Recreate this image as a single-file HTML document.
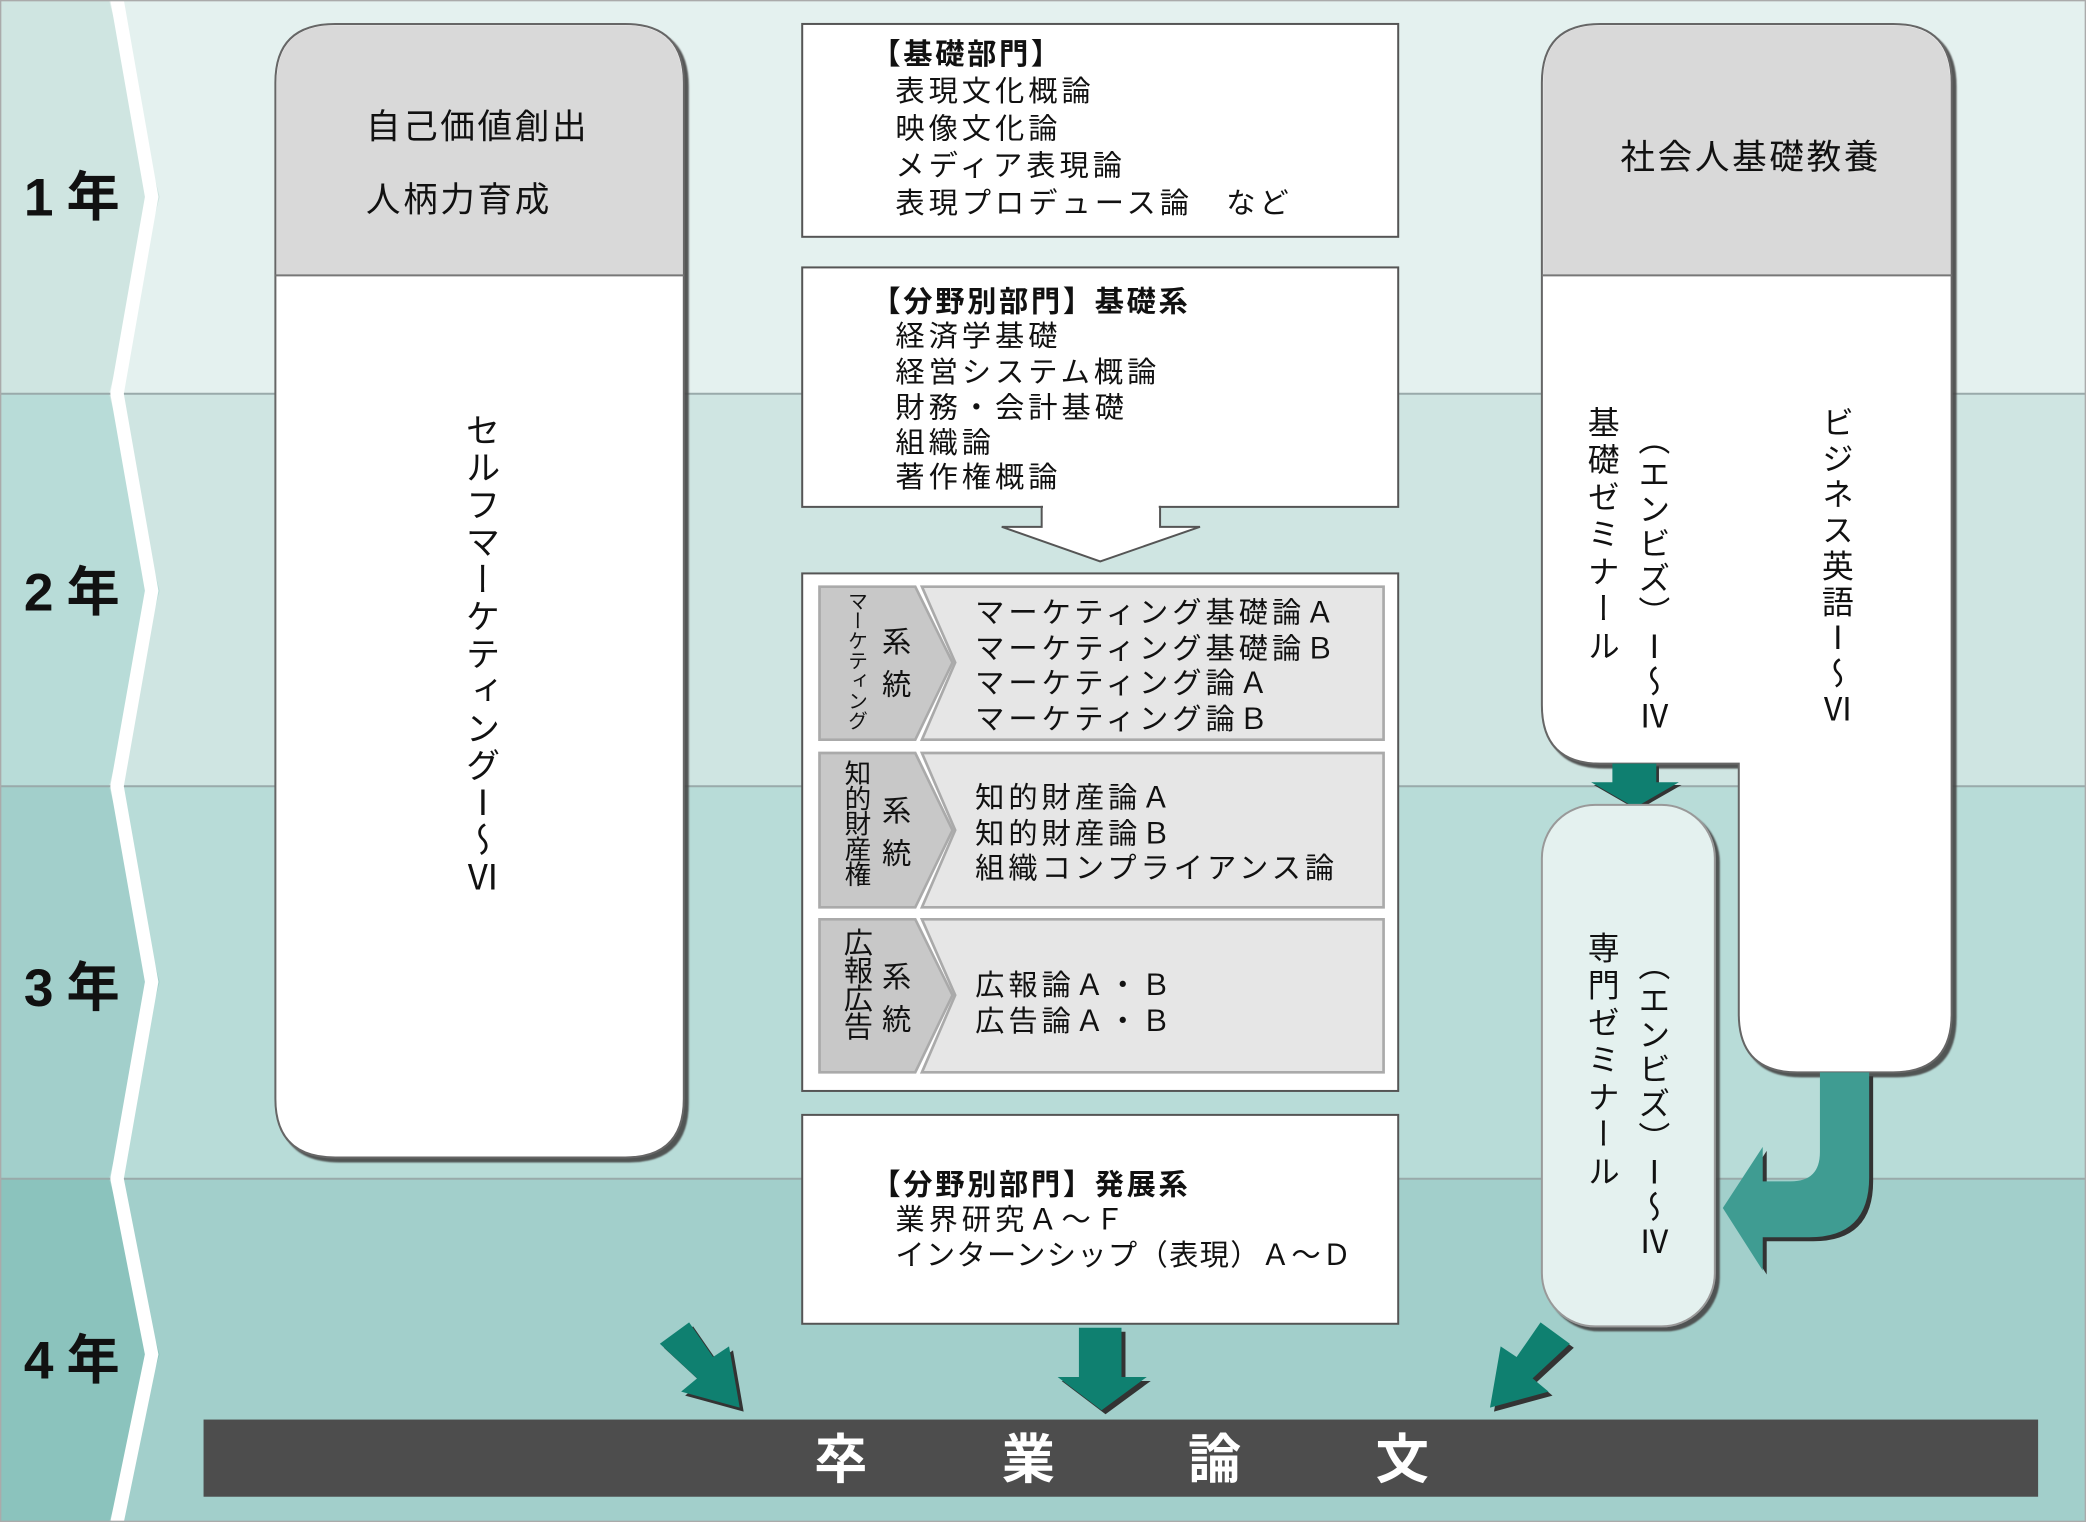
<!DOCTYPE html>
<html><head><meta charset="utf-8"><style>
html,body{margin:0;padding:0;background:#fff}
svg{display:block}
text{font-family:"Liberation Sans","Noto Sans CJK JP",sans-serif;fill:#111}
.v{writing-mode:vertical-rl}
</style></head><body>
<svg width="2086" height="1522" viewBox="0 0 1568 1144" preserveAspectRatio="none" xmlns="http://www.w3.org/2000/svg">
<defs>
<filter id="sh" x="-10%" y="-10%" width="130%" height="130%"><feDropShadow dx="3" dy="3" stdDeviation="0.6" flood-color="#444" flood-opacity="0.9"/></filter>
</defs>
<rect x="0" y="0" width="1568" height="296" fill="#e4f1ef"/>
<rect x="0" y="296" width="1568" height="295" fill="#cfe5e2"/>
<rect x="0" y="591" width="1568" height="295" fill="#b8dcd8"/>
<rect x="0" y="886" width="1568" height="258" fill="#a2cfcb"/>
<polygon points="0,0 82,0 120,148 82,296 0,296" fill="#cfe5e1"/>
<polygon points="0,296 82,296 120,444 82,591 0,591" fill="#b8dcd8"/>
<polygon points="0,591 82,591 120,738 82,886 0,886" fill="#a2cfcb"/>
<polygon points="0,886 82,886 120,1018 82,1144 0,1144" fill="#8bc3bd"/>
<g stroke="#9aa" stroke-width="1.5">
<line x1="0" y1="296" x2="1568" y2="296"/><line x1="0" y1="591" x2="1568" y2="591"/><line x1="0" y1="886" x2="1568" y2="886"/>
</g>
<polyline points="88,0 114,148 88,296 114,444 88,591 114,738 88,886 114,1018 88,1144" fill="none" stroke="#fff" stroke-width="10"/>
<rect x="0" y="0" width="1568" height="1144" fill="none" stroke="#aaa" stroke-width="2"/>
<g font-weight="bold" font-size="40">
<text x="18" y="162">1</text><text x="50" y="162">年</text>
<text x="18" y="459">2</text><text x="50" y="459">年</text>
<text x="18" y="756">3</text><text x="50" y="756">年</text>
<text x="18" y="1036">4</text><text x="50" y="1036">年</text>
</g>

<g filter="url(#sh)">
<path d="M252,18 H470 Q514,18 514,62 V826 Q514,870 470,870 H252 Q207,870 207,826 V62 Q207,18 252,18 Z" fill="#fff" stroke="#666" stroke-width="1.5"/>
</g>
<path d="M252,19 H470 Q513,19 513,62 V207 H208 V62 Q208,19 252,19 Z" fill="#d9d9d9"/>
<line x1="207" y1="207" x2="514" y2="207" stroke="#777" stroke-width="1.5"/>
<text x="275" y="104" font-size="26" letter-spacing="2">自己価値創出</text>
<text x="275" y="159" font-size="26" letter-spacing="2">人柄力育成</text>
<text class="v" x="360" y="310" font-size="26" letter-spacing="2">セルフマーケティングⅠ～Ⅵ</text>

<g stroke="#555" stroke-width="1.5" fill="#fff">
<rect x="603" y="18" width="448" height="160"/>
<rect x="603" y="201" width="448" height="180"/>
<rect x="603" y="431" width="448" height="389"/>
<rect x="603" y="838" width="448" height="157"/>
</g>
<g font-size="22" letter-spacing="3">
<text x="655" y="48" font-weight="bold" letter-spacing="2">【基礎部門】</text>
<text x="673" y="76">表現文化概論</text>
<text x="673" y="104">映像文化論</text>
<text x="673" y="132">メディア表現論</text>
<text x="673" y="160">表現プロデュース論　など</text>
<text x="655" y="234" font-weight="bold" letter-spacing="2">【分野別部門】基礎系</text>
<text x="673" y="260">経済学基礎</text>
<text x="673" y="287">経営システム概論</text>
<text x="673" y="314">財務・会計基礎</text>
<text x="673" y="340">組織論</text>
<text x="673" y="366">著作権概論</text>
<text x="655" y="898" font-weight="bold" letter-spacing="2">【分野別部門】発展系</text>
<text x="673" y="924">業界研究Ａ～Ｆ</text>
<text x="673" y="951" letter-spacing="1">インターンシップ（表現）Ａ～Ｄ</text>
</g>
<polygon points="783,381 783,396 753,396 827,422 902,396 872,396 872,381" fill="#fff" stroke="#555" stroke-width="1.5"/>
<rect x="784" y="378" width="87" height="5" fill="#fff"/>

<g stroke="#aaa" stroke-width="2">
<polygon points="616,441 688,441 716,498 688,556 616,556" fill="#c8c8c8"/>
<polygon points="693,441 1040,441 1040,556 693,556 718,498" fill="#e6e6e6"/>
<polygon points="616,566 688,566 716,624 688,682 616,682" fill="#c8c8c8"/>
<polygon points="693,566 1040,566 1040,682 693,682 718,624" fill="#e6e6e6"/>
<polygon points="616,691 688,691 716,748 688,806 616,806" fill="#c8c8c8"/>
<polygon points="693,691 1040,691 1040,806 693,806 718,748" fill="#e6e6e6"/>
</g>
<text class="v" x="643" y="444" font-size="15">マーケティング</text>
<text class="v" x="643" y="571" font-size="20" letter-spacing="-1">知的財産権</text>
<text class="v" x="643" y="697" font-size="22" letter-spacing="-1">広報広告</text>
<g font-size="22" letter-spacing="3">
<text x="663" y="490">系</text><text x="663" y="522">統</text>
<text x="663" y="617">系</text><text x="663" y="649">統</text>
<text x="663" y="742">系</text><text x="663" y="774">統</text>
<text x="733" y="468">マーケティング基礎論Ａ</text>
<text x="733" y="495">マーケティング基礎論Ｂ</text>
<text x="733" y="521">マーケティング論Ａ</text>
<text x="733" y="548">マーケティング論Ｂ</text>
<text x="733" y="607">知的財産論Ａ</text>
<text x="733" y="634">知的財産論Ｂ</text>
<text x="733" y="660">組織コンプライアンス論</text>
<text x="733" y="748">広報論Ａ・Ｂ</text>
<text x="733" y="775">広告論Ａ・Ｂ</text>
</g>

<g filter="url(#sh)">
<path d="M1203,18 H1423 Q1467,18 1467,62 V762 Q1467,806 1423,806 H1351 Q1307,806 1307,762 V574 H1203 Q1159,574 1159,530 V62 Q1159,18 1203,18 Z" fill="#fff" stroke="#666" stroke-width="1.5"/>
</g>
<path d="M1203,19 H1423 Q1466,19 1466,62 V207 H1160 V62 Q1160,19 1203,19 Z" fill="#d9d9d9"/>
<line x1="1159" y1="207" x2="1467" y2="207" stroke="#777" stroke-width="1.5"/>
<text x="1316" y="127" font-size="26" text-anchor="middle" letter-spacing="2">社会人基礎教養</text>
<text class="v" x="1204" y="305" font-size="24" letter-spacing="4">基礎ゼミナール</text>
<text class="v" x="1242" y="318" font-size="24" letter-spacing="2">（エンビズ）Ⅰ～Ⅳ</text>
<text class="v" x="1380" y="305" font-size="24" letter-spacing="3">ビジネス英語Ⅰ～Ⅵ</text>

<polygon points="1212,574 1245,574 1245,588 1262,588 1229,607 1196,588 1212,588" fill="#333" transform="translate(2,2)"/>
<polygon points="1212,574 1245,574 1245,588 1262,588 1229,607 1196,588 1212,588" fill="#0f7f70"/>

<g filter="url(#sh)">
<rect x="1159" y="605" width="130" height="392" rx="40" fill="#e4f1ef" stroke="#999" stroke-width="1.5"/>
</g>
<text class="v" x="1204" y="700" font-size="24" letter-spacing="4">専門ゼミナール</text>
<text class="v" x="1242" y="713" font-size="24" letter-spacing="2">（エンビズ）Ⅰ～Ⅳ</text>

<path d="M1368,806 V866 Q1368,888 1346,888 H1325 V862 L1295,908 L1325,955 V930 H1360 Q1405,930 1405,885 V806 Z" fill="#333" transform="translate(3,3)"/>
<path d="M1368,806 V866 Q1368,888 1346,888 H1325 V862 L1295,908 L1325,955 V930 H1360 Q1405,930 1405,885 V806 Z" fill="#3f9c92"/>

<g transform="translate(3,3)" fill="#333">
<polygon points="496,1010 518,994 536,1020 548,1012 556,1058 512,1046 524,1036"/>
<polygon points="811,998 843,998 843,1035 862,1035 828,1060 795,1035 811,1035"/>
<polygon points="1180,1010 1158,994 1140,1020 1128,1012 1120,1058 1164,1046 1152,1036"/>
</g>
<g fill="#0f8070">
<polygon points="496,1010 518,994 536,1020 548,1012 556,1058 512,1046 524,1036"/>
<polygon points="811,998 843,998 843,1035 862,1035 828,1060 795,1035 811,1035"/>
<polygon points="1180,1010 1158,994 1140,1020 1128,1012 1120,1058 1164,1046 1152,1036"/>
</g>

<rect x="153" y="1067" width="1379" height="58" fill="#4d4d4d"/>
<g font-size="40" font-weight="bold" text-anchor="middle">
<text x="632" y="1111" style="fill:#fff">卒</text>
<text x="773" y="1111" style="fill:#fff">業</text>
<text x="913" y="1111" style="fill:#fff">論</text>
<text x="1054" y="1111" style="fill:#fff">文</text>
</g>
</svg>
</body></html>
